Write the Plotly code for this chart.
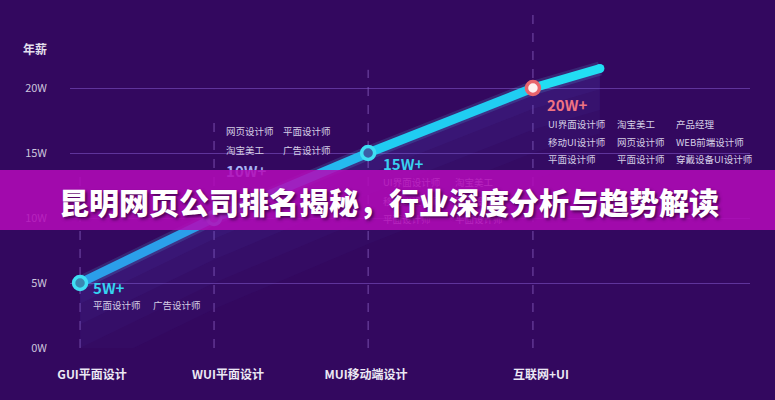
import numpy as np
import plotly.graph_objects as go

# ---------------- data ----------------
stage_labels = ["GUI平面设计", "WUI平面设计", "MUI移动端设计", "互联网+UI"]
stage_x = [1.0, 2.0, 3.15, 4.38]          # career stage positions along the axis
salary_w = [5, 10, 15, 20]                # annual salary (W = 万)
trend_end_x = 4.88                        # line continues past the last stage
trend_end_w = 21.5

y_ticks = [0, 5, 10, 15, 20]
y_ticktext = ["0W", "5W", "10W", "15W", "20W"]

badge_text = ["5W+", "10W+", "15W+", "20W+"]
jobs_5w = [["平面设计师", "广告设计师"]]
jobs_10w = [["网页设计师", "平面设计师"], ["淘宝美工", "广告设计师"]]
jobs_15w = [["UI界面设计师", "淘宝美工"], ["移动UI设计师", "网页设计师"], ["平面设计师", "平面设计师"]]
jobs_20w = [["UI界面设计师", "淘宝美工", "产品经理"],
            ["移动UI设计师", "网页设计师", "WEB前端设计师"],
            ["平面设计师", "平面设计师", "穿戴设备UI设计师"]]

title_text = "昆明网页公司排名揭秘，行业深度分析与趋势解读"
y_title = "年薪"

# ---------------- style ----------------
BG = "#33085f"
FONT = "Noto Sans CJK SC"
seg_colors = ["#2b9fea", "#25b9ef", "#20cdf2", "#22def3"]
marker_fill = ["#3a88b2", "#4d7ec8", "#3b5ea8", "#fff1f1"]
marker_ring = ["#3fdff4", "#3fd6f4", "#3fdff4", "#e8646c"]
badge_colors = ["#35d3f1", "#a7b2f4", "#39d0f0", "#f07382"]

line_x = stage_x + [trend_end_x]
line_y = salary_w + [trend_end_w]


def px_to_x(px):
    return 1 + (px - 80) / 134.0


def px_to_y(py):
    return (348 - py) / 13.0


fig = go.Figure()

# soft glow below the line
lx = np.array(line_x)
ly = np.array(line_y)
for d, a in [(7.0, 0.035), (5.0, 0.04), (3.2, 0.05), (1.6, 0.06)]:
    fig.add_trace(go.Scatter(
        x=np.concatenate([lx, lx[::-1]]),
        y=np.concatenate([ly, (ly - d)[::-1]]),
        fill="toself", mode="none",
        fillcolor=f"rgba(95,105,235,{a})",
        hoverinfo="skip", showlegend=False))

# halo around the line
fig.add_trace(go.Scatter(x=line_x, y=line_y, mode="lines",
                         line=dict(color="rgba(90,225,255,0.14)", width=14),
                         hoverinfo="skip", showlegend=False))

# main line segments (colour shifts blue -> cyan)
for i in range(len(line_x) - 1):
    fig.add_trace(go.Scatter(x=line_x[i:i + 2], y=line_y[i:i + 2], mode="lines",
                             line=dict(color=seg_colors[i], width=9),
                             hoverinfo="skip", showlegend=False))
# rounded end cap
fig.add_trace(go.Scatter(x=[trend_end_x], y=[trend_end_w], mode="markers",
                         marker=dict(size=9, color=seg_colors[-1], line=dict(width=0)),
                         hoverinfo="skip", showlegend=False))

# stage markers
fig.add_trace(go.Scatter(x=stage_x, y=salary_w, mode="markers",
                         marker=dict(size=13, color=marker_fill,
                                     line=dict(color=marker_ring, width=3.5)),
                         hoverinfo="skip", showlegend=False))


def text_trace(xs, ys, texts, color, size, bold=False):
    fig.add_trace(go.Scatter(
        x=xs, y=ys, text=texts, mode="text", textposition="middle right",
        textfont=dict(family=FONT, size=size, color=color,
                      weight="bold" if bold else "normal"),
        cliponaxis=False, hoverinfo="skip", showlegend=False))


# badges
badge_px = [(93, 290), (226, 173), (383, 166), (547, 107)]
for (bx, by), t, c in zip(badge_px, badge_text, badge_colors):
    text_trace([px_to_x(bx)], [px_to_y(by)], [t], c, 15, bold=True)


def job_block(rows, col_px, row_py, color="#d6cfe6"):
    xs, ys, ts = [], [], []
    for r, row in enumerate(rows):
        for c, t in enumerate(row):
            xs.append(px_to_x(col_px[c]))
            ys.append(px_to_y(row_py[r]))
            ts.append(t)
    text_trace(xs, ys, ts, color, 9.5)


job_block(jobs_5w, [93, 153], [307])
job_block(jobs_10w, [226, 283], [133, 152])
job_block(jobs_15w, [383, 455], [184, 203, 221])
job_block(jobs_20w, [548, 617, 676], [126, 144, 161])

# vertical dashed guides
guide_top = [13.5, 17.9, 21.4, 26]
shapes = []
for gx, gt in zip(stage_x, guide_top):
    shapes.append(dict(type="line", xref="x", yref="y", x0=gx, x1=gx, y0=0, y1=gt,
                       line=dict(color="rgba(175,135,235,0.55)", width=1, dash="dash"),
                       layer="below"))
# magenta banner
shapes.append(dict(type="rect", xref="paper", yref="y", x0=-0.2, x1=1.2,
                   y0=px_to_y(230), y1=px_to_y(170),
                   fillcolor="rgba(178,10,184,0.87)", line=dict(width=0),
                   layer="above"))

label_px = [92, 228, 366, 541]

fig.update_layout(
    width=775, height=400,
    margin=dict(l=70, r=25, t=10, b=52),
    paper_bgcolor=BG, plot_bgcolor=BG,
    showlegend=False,
    shapes=shapes,
    xaxis=dict(range=[0.925, 6.0], showgrid=False, zeroline=False, showline=False,
               tickvals=[px_to_x(p) for p in label_px], ticktext=stage_labels, ticks="",
               ticklabelstandoff=18,
               tickfont=dict(family=FONT, size=12, color="#ece8f4", weight="bold")),
    yaxis=dict(range=[0, 26], tickvals=y_ticks, ticktext=y_ticktext, ticks="",
               showgrid=True, gridcolor="rgba(140,95,215,0.5)", gridwidth=1,
               zeroline=False, showline=False, ticklabelstandoff=22,
               tickfont=dict(family=FONT, size=11, color="#cbc4dc")),
    annotations=[
        dict(text=y_title, xref="paper", yref="y", x=(35 - 70) / 680.0, y=px_to_y(48),
             showarrow=False, xanchor="center", yanchor="middle",
             font=dict(family=FONT, size=12, color="#e4e0ee", weight="bold")),
        dict(text=title_text, xref="paper", yref="y", x=(389 - 70) / 680.0, y=px_to_y(201),
             showarrow=False, xanchor="center", yanchor="middle",
             font=dict(family=FONT, size=30, color="#ffffff", weight=900,
                       shadow="2px 2px 3px rgba(50,0,60,0.75)")),
    ],
)

fig.write_html("out.html",
               config={"displayModeBar": False},
               post_script="document.body.style.margin='0';document.body.style.overflow='hidden';")
